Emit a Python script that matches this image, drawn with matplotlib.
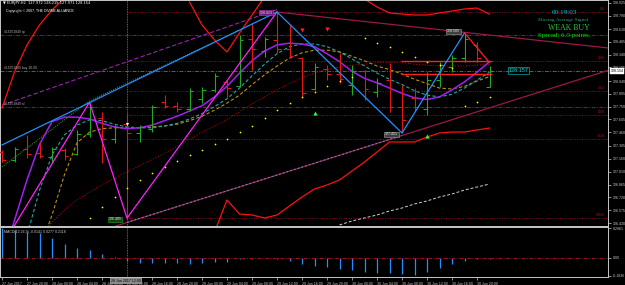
import matplotlib
matplotlib.use("Agg")
import matplotlib.pyplot as plt
import matplotlib.transforms as mtrans
import numpy as np

# EURJPY H2 bars, 27 Jun 16:00 .. 30 Jun 22:00
bar_open = [127.24, 127.14, 127.27, 127.22, 127.18, 127.26, 127.21, 127.44, 127.62, 127.38,
            127.55, 127.45, 127.50, 127.80, 127.76, 127.72, 127.84, 127.94, 128.03, 127.98,
            128.52, 128.38, 128.51, 128.40, 128.30, 127.95, 128.18, 128.12, 128.00, 128.15,
            127.92, 128.05, 127.75, 127.85, 127.72, 128.05, 128.20, 128.30, 128.45, 127.972]
bar_high = [127.26, 127.29, 127.43, 127.35, 127.29, 127.28, 127.49, 127.79, 127.69, 127.54,
            127.68, 127.54, 127.77, 127.88, 127.80, 127.96, 127.97, 128.13, 128.05, 128.56,
            128.70, 128.54, 128.823, 128.68, 128.31, 128.25, 128.22, 128.36, 128.22, 128.17,
            128.08, 128.25, 128.00, 127.96, 128.14, 128.26, 128.34, 128.585, 128.48, 128.215]
bar_low = [127.12, 127.12, 127.17, 127.17, 127.11, 127.14, 127.20, 127.41, 127.11, 127.34,
           126.485, 127.35, 127.46, 127.73, 127.69, 127.70, 127.79, 127.92, 127.86, 127.97,
           128.17, 128.31, 128.36, 128.30, 127.86, 127.94, 128.05, 128.02, 127.88, 127.83,
           127.86, 127.69, 127.451, 127.70, 127.66, 127.97, 128.14, 128.26, 128.26, 127.971]
bar_close = [127.14, 127.27, 127.21, 127.19, 127.27, 127.19, 127.44, 127.74, 127.38, 127.52,
             127.45, 127.52, 127.74, 127.76, 127.72, 127.93, 127.94, 128.10, 127.96, 128.50,
             128.40, 128.52, 128.40, 128.32, 127.90, 128.20, 128.12, 128.06, 128.15, 127.95,
             128.02, 127.75, 127.60, 127.75, 128.05, 128.22, 128.30, 128.52, 128.30, 128.154]

# moving averages
ma_purple = [126.01, 126.46, 126.92, 127.32, 127.58, 127.63, 127.63, 127.61, 127.56, 127.52,
             127.50, 127.51, 127.54, 127.59, 127.64, 127.70, 127.76, 127.86, 127.98, 128.13,
             128.27, 128.38, 128.45, 128.47, 128.46, 128.43, 128.35, 128.26, 128.15, 128.07,
             128.02, 127.96, 127.90, 127.85, 127.83, 127.86, 127.94, 128.03, 128.14, 128.26]
ma_cyan = [125.90, 126.07, 126.29, 126.80, 127.20, 127.43, 127.54, 127.60, 127.59, 127.55,
           127.52, 127.51, 127.51, 127.53, 127.56, 127.61, 127.67, 127.75, 127.84, 127.96,
           128.10, 128.23, 128.35, 128.43, 128.46, 128.46, 128.43, 128.37, 128.29, 128.21,
           128.13, 128.06, 128.00, 127.93, 127.88, 127.86, 127.89, 127.96, 128.05, 128.14]
ma_olive = [125.67, 125.84, 126.03, 126.12, 126.52, 126.98, 127.34, 127.46, 127.50, 127.51,
            127.51, 127.51, 127.52, 127.53, 127.55, 127.59, 127.64, 127.71, 127.79, 127.88,
            128.00, 128.11, 128.21, 128.30, 128.36, 128.39, 128.39, 128.37, 128.32, 128.27,
            128.21, 128.17, 128.12, 128.06, 128.01, 127.96, 127.95, 127.98, 128.04, 128.09]
ma_darkred = [125.90, 126.01, 126.15, 126.29, 126.44, 126.58, 126.69, 126.78, 126.86, 126.94,
              127.01, 127.08, 127.15, 127.22, 127.30, 127.38, 127.46, 127.53, 127.60, 127.69,
              127.78, 127.86, 127.94, 128.01, 128.08, 128.13, 128.17, 128.20, 128.22, 128.23,
              128.25, 128.25, 128.25, 128.23, 128.22, 128.21, 128.21, 128.21, 128.22, 128.23]

# envelope bands (nan = outside the window)
nan = np.nan
band_upper = [127.734, 128.143, 128.449, 128.676, 128.846, 128.982, 129.129, nan, nan, nan,
              nan, nan, nan, nan, nan, 128.936, 128.676, 128.505, 128.369, 128.585,
              128.789, 128.993, nan, nan, nan, nan, nan, nan, nan, 128.970,
              128.880, 128.812, 128.800, 128.789, 128.789, 128.812, 128.834, 128.857, 128.868, 128.800]
band_lower = [nan, nan, nan, nan, nan, nan, nan, nan, nan, nan,
              nan, nan, nan, nan, nan, nan, nan, 126.328, 126.691, 126.532,
              126.521, 126.487, 126.521, 126.623, 126.725, 126.816, 126.861, 126.918, 127.020, 127.122,
              127.235, 127.349, 127.349, 127.349, 127.405, 127.451, 127.462, 127.462, 127.485, 127.507]
white_idx = list(range(27, 40))
white_line = [126.408, 126.453, 126.487, 126.521, 126.566, 126.600, 126.646, 126.680,
              126.725, 126.759, 126.804, 126.838, 126.872]

# parabolic SAR, from bar 7
sar_idx = list(range(7, 40))
sar = [126.487, 126.612, 126.725, 126.827, 126.918, 126.997, 127.065, 127.133, 127.201, 127.258,
       127.326, 127.383, 127.462, 127.530, 127.621, 127.712, 127.791, 127.859, 127.916, 127.984,
       128.041, 128.086, 128.528, 128.471, 128.426, 128.369, 128.313, 128.256, 128.222, 128.188,
       127.757, 127.802, 127.859]

# zigzags and trend lines (bar index, price)
zz_mag_idx, zz_mag = [0, 7, 10, 22], [126.17, 127.80, 126.485, 128.823]
zz_blue_idx, zz_blue = [0, 22, 32, 37], [127.315, 128.823, 127.451, 128.585]
zz_red_idx, zz_red = [37, 39], [128.585, 128.25]
tl_purple_idx, tl_purple = [0, 22], [127.766, 128.850]
tl_green_idx, tl_green = [0, 7, 17, 19], [127.065, 127.814, 128.483, 128.62]
tl_top_idx, tl_top = [22, 48.5], [128.823, 128.415]
tl_low_idx, tl_low = [10, 32], [126.436, 127.422]

fib_hi, fib_lo = 128.823, 126.485
fib_pct = [0.0, 23.6, 38.2, 50.0, 61.8, 100.0]
order_tp, order_buy, order_sl = 128.562, 128.150, 127.746
pivot_lines = [128.267, 128.120]

macd = [0.296, 0.278, 0.261, 0.245, 0.195, 0.138, 0.100, 0.077, 0.037, 0.004,
        -0.030, -0.050, -0.050, -0.050, -0.057, -0.064, -0.050, -0.040, -0.040, -0.017,
        -0.013, -0.003, -0.013, -0.030, -0.060, -0.080, -0.097, -0.117, -0.124, -0.141,
        -0.151, -0.157, -0.164, -0.174, -0.141, -0.100, -0.067, -0.030, -0.013, -0.017]

price_ticks = ["128.925", "128.780", "128.630", "128.485", "128.340", "128.195", "128.040",
               "127.895", "127.750", "127.605", "127.460", "127.305", "127.160", "127.010",
               "126.865", "126.720", "126.575", "126.430"]
time_labels = ["27 Jun 2017", "27 Jun 20:00", "28 Jun 00:00", "28 Jun 04:00", "28 Jun 08:00",
               "28 Jun 12:00", "28 Jun 16:00", "28 Jun 20:00", "29 Jun 00:00", "29 Jun 04:00",
               "29 Jun 08:00", "29 Jun 12:00", "29 Jun 16:00", "29 Jun 20:00", "30 Jun 00:00",
               "30 Jun 04:00", "30 Jun 08:00", "30 Jun 12:00", "30 Jun 16:00", "30 Jun 20:00"]

FG = "#c8c8c8"
SANS = "Liberation Sans"
SERIF = "Liberation Serif"

fig = plt.figure(figsize=(6.25, 2.85), dpi=100, facecolor="black")
ax = fig.add_axes([0.0, 1 - 226 / 285, 608 / 625, 226 / 285], facecolor="black")
ax2 = fig.add_axes([0.0, 1 - 277 / 285, 608 / 625, 50 / 285], facecolor="black")

idx = np.arange(len(bar_close))
o, h, l, c = map(np.array, (bar_open, bar_high, bar_low, bar_close))
xmin, xmax = -0.16, 48.48

# order / fib lines
for p in (order_tp, order_sl):
    ax.axhline(p, color="#9b1030", lw=0.7, dashes=(4, 1.5, 1, 1.5), zorder=1)
ax.axhline(order_buy, color="#1d8a1d", lw=0.7, dashes=(4, 1.5, 1, 1.5), zorder=1)
for pct in fib_pct:
    lvl = fib_hi - pct / 100 * (fib_hi - fib_lo)
    ax.hlines(lvl, 10, xmax, color="#8b0a20", lw=0.7, linestyles=(0, (1, 1.5)), zorder=1)
    ax.text(48.2, lvl + 0.012, f"{pct:.1f}", color="#b0102a", fontsize=2.6,
            family=SANS, ha="right", va="bottom")

ax.axvline(10, color="#808080", lw=0.6, linestyle=(0, (1, 1)), zorder=1)
ax2.axvline(10, color="#808080", lw=0.6, linestyle=(0, (1, 1)), zorder=1)

# trend lines
ax.plot(tl_top_idx, tl_top, color="#9b1848", lw=0.9)
ax.axline((tl_low_idx[0], tl_low[0]), (tl_low_idx[1], tl_low[1]), color="#9b1848", lw=0.9)
ax.plot(tl_low_idx, tl_low, color="#6a8fc0", lw=0.7, dashes=(2, 2))
ax.plot(tl_purple_idx, tl_purple, color="#9a22b0", lw=0.8, dashes=(4, 2))
ax.plot(tl_green_idx, tl_green, color="#2a8a2a", lw=0.8, linestyle=(0, (1, 1)))

# bands and lines
ax.plot(idx, band_upper, color="#ff1010", lw=0.9)
ax.plot(idx, band_lower, color="#ff1010", lw=0.9)
ax.plot(white_idx, white_line, color="#d0d0d0", lw=0.7, dashes=(3, 2))
ax.plot(idx, ma_darkred, color="#a00000", lw=0.8, linestyle=(0, (1, 1.5)))
ax.plot(idx, ma_olive, color="#b8900b", lw=0.8, dashes=(3, 2))
ax.plot(idx, ma_cyan, color="#20a8a8", lw=0.8, dashes=(3, 2))
ax.plot(idx, ma_purple, color="#a020f0", lw=1.1)

# OHLC bars
col = np.where(c >= o, "#22a822", "#e01818")
ax.vlines(idx, l, h, colors=col, lw=0.8, zorder=3)
ax.hlines(o, idx - 0.3, idx, colors=col, lw=0.8, zorder=3)
ax.hlines(c, idx, idx + 0.3, colors=col, lw=0.8, zorder=3)

ax.hlines(pivot_lines, 31.9, 39.2, colors="#ff2020", lw=1.0, zorder=3)

ax.plot(zz_mag_idx, zz_mag, color="#ff20ff", lw=0.9, zorder=4)
ax.plot(zz_blue_idx, zz_blue, color="#2090ff", lw=0.9, zorder=4)
ax.plot(zz_red_idx, zz_red, color="#ff2020", lw=0.9, zorder=4)

ax.scatter(sar_idx, sar, s=1.5, color="#ffff00", zorder=5, linewidths=0)

# arrows
ax.scatter([25, 34], [127.678, 127.417], marker="^", s=9, color="#30ff30", zorder=5, linewidths=0)
ax.scatter([24, 26], [128.619, 128.630], marker="v", s=9, color="#ff2020", zorder=5, linewidths=0)
ax.scatter([10], [127.553], marker="v", s=5, color="white", zorder=5, linewidths=0)

# swing labels
def tag(x, y, s, fc, ec, tc, size=2.6):
    ax.text(x, y, s, fontsize=size, family=SANS, color=tc, ha="center", va="center", zorder=6,
            bbox=dict(boxstyle="square,pad=0.15", fc=fc, ec=ec, lw=0.4))

tag(21.12, 128.817, "128.823", "#6a1a7a", "#b040c0", "#e0e0e0")
tag(9.04, 126.470, "126.485", "#104010", "#30a030", "#e0e0e0")
tag(31.16, 127.434, "127.451", "#404040", "#a0a0a0", "#e0e0e0")
tag(36.12, 128.602, "128.585", "#404040", "#a0a0a0", "#e0e0e0")
tag(41.32, 128.160, "128.157", "black", "#00d0d0", "#00e0e0", size=4.0)

# order labels
blend = mtrans.blended_transform_factory(ax.transAxes, ax.transData)
for p, s in ((order_tp, "#15351849 tp"), (order_buy, "#15351849 buy 10.00"), (order_sl, "#15351849 sl")):
    ax.text(0.006, p + 0.01, s, transform=blend, fontsize=2.4, family=SANS, color="#b0b0b0", va="bottom")

# header texts
ax.text(0.005, 0.995, "\u25bc EURJPY,H2  127.972 128.215 127.971 128.154", transform=ax.transAxes,
        fontsize=2.6, family=["DejaVu Sans"], color="white", va="top")
ax.text(0.01, 0.962, "Copyright \u00a9 2007, THE DIVINE ALLIANCE", transform=ax.transAxes,
        fontsize=2.6, family=SANS, color="white", va="top")

def px(xp, yp):
    return xp / 608, 1 - yp / 226

ax.text(*px(564, 12.5), "00:19:03", transform=ax.transAxes, fontsize=5.2, family=SERIF,
        color="#00c8d0", ha="center", va="center")
ax.text(*px(563, 20), "Moving Average Signal", transform=ax.transAxes, fontsize=3.8, family=SERIF,
        color="#2e9e5e", ha="center", va="center")
ax.text(*px(569, 28.5), "WEAK BUY", transform=ax.transAxes, fontsize=5.6, family=SERIF,
        color="#30c040", ha="center", va="center")
ax.text(*px(564, 36), "Spread: 6.0 points.", transform=ax.transAxes, fontsize=5.0, family=SERIF,
        color="#00e000", ha="center", va="center")

ax.set_xlim(xmin, xmax)
ax.set_ylim(126.396, 128.959)
ax.yaxis.tick_right()
ax.set_yticks([float(t) for t in price_ticks])
ax.set_yticklabels(price_ticks)
ax.set_xticks([])
ax.tick_params(axis="y", colors=FG, labelsize=2.6, length=2, width=0.5, pad=1.5)
for lab in ax.get_yticklabels():
    lab.set_family(SANS)
ax.text(1.004, 128.154, "128.154", transform=blend, fontsize=2.6, family=SANS, color="black",
        va="center", bbox=dict(boxstyle="square,pad=0.15", fc="white", ec="white", lw=0.3))

# MACD panel
ax2.vlines(idx, 0, macd, colors="#1e90ff", lw=0.9)
ax2.axhline(0, color="#a01020", lw=0.7, dashes=(4, 1.5, 1, 1.5))
ax2.set_xlim(xmin, xmax)
ax2.set_ylim(-0.194, 0.308)
ax2.yaxis.tick_right()
ax2.set_yticks([0.2961, 0.0, -0.1826])
ax2.set_yticklabels(["0.2961", "0.00", "-0.1826"])
ax2.set_xticks(idx[::2])
ax2.set_xticklabels(time_labels)
ax2.tick_params(axis="y", colors=FG, labelsize=2.6, length=2, width=0.5, pad=1.5)
ax2.tick_params(axis="x", colors=FG, labelsize=2.6, length=2, width=0.5, pad=1.5)
for lab in ax2.get_xticklabels():
    lab.set_ha("left")
    lab.set_family(SANS)
for lab in ax2.get_yticklabels():
    lab.set_family(SANS)
ax2.text(0.006, 0.93, "MACD(12,26,9) -0.0141 0.0277 0.2118", transform=ax2.transAxes,
         fontsize=2.6, family=SANS, color=FG, va="top")

for a in (ax, ax2):
    for sp in a.spines.values():
        sp.set_color(FG)
        sp.set_linewidth(0.7)

fig.text(126 / 625, 1 - 281 / 285, "28 Jun 2017 12:00", fontsize=2.6, family=SANS, color="black",
         ha="center", va="center", bbox=dict(boxstyle="square,pad=0.2", fc="#8c8c8c", ec="none"))

fig.savefig("out.png", dpi=100, facecolor="black")
